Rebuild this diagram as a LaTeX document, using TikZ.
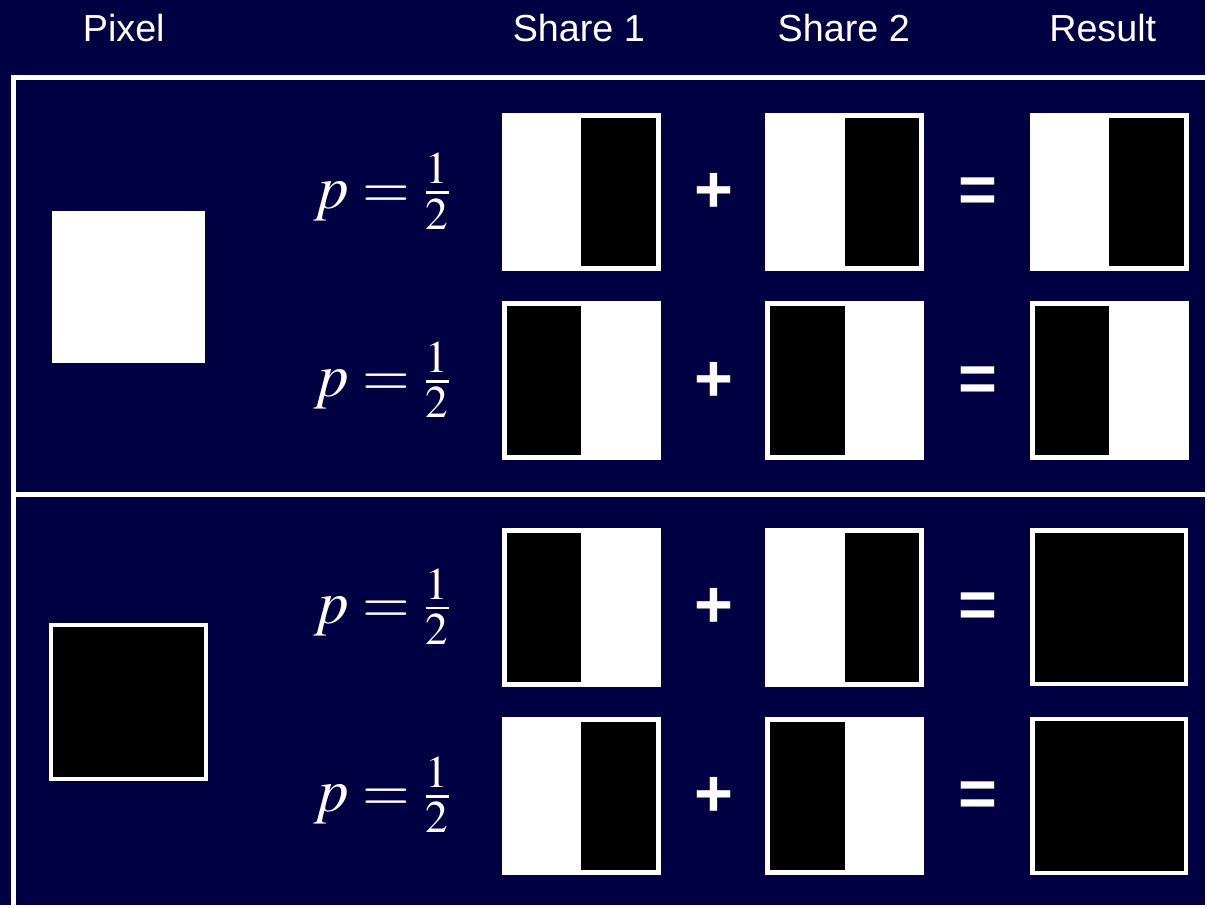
\documentclass[tikz,border=0pt]{standalone}
\usepackage{mathptmx}
\usepackage[no-math]{fontspec}
\setmainfont{Liberation Sans}
\definecolor{fondo}{RGB}{0,0,66}
\tikzset{
    celda/.style={draw=white, fill=white, line width=0.1cm, minimum size=3.08cm, inner sep=0pt, outer sep=0pt},
    negroder/.style={path picture={\fill[black] (path picture bounding box.north) rectangle (path picture bounding box.south east);}},
    negroizq/.style={path picture={\fill[black] (path picture bounding box.south west) rectangle (path picture bounding box.north);}},
    negro/.style={fill=black, line width=0.085cm},
    pixblanco/.style={fill=white, minimum size=3.06cm, inner sep=0pt},
    pixnegro/.style={draw=white, fill=black, line width=0.08cm, minimum size=3.1cm, inner sep=0pt},
    marco/.style={draw=white, line width=0.1cm},
    titulo/.style={text=white, font=\fontsize{21.5}{26}\selectfont, anchor=base, inner sep=0pt},
    prob/.style={text=white, font=\fontsize{35}{42}\selectfont, anchor=base, inner sep=0pt},
    signo/.style={text=white, font=\fontsize{38}{44}\selectfont\bfseries, anchor=base, inner sep=0pt},
}
\begin{document}
\begin{tikzpicture}[x=0.02cm, y=-0.02cm]
\fill[fondo] (0,0) rectangle (1207,907);
% Titulos
\node[titulo] (tpixel) at (124,42) {Pixel};
\node[titulo] (tshare1) at (580,42) {Share 1};
\node[titulo] (tshare2) at (845.5,42) {Share 2};
\node[titulo] (tresult) at (1105,42) {Result};
% Marco
\draw[marco] (1207,78) -- (13.5,78) -- (13.5,907);
\draw[marco] (13.5,495.5) -- (1207,495.5);
% Pixel blanco y negro
\node[pixblanco] (pixblanco) at (128.5,287.5) {};
\node[pixnegro] (pixnegro) at (128.5,703.5) {};
% Fila 1
\begin{scope}[shift={(0,192.5)}]
\node[prob] (p1) at (383,16) {$p=\frac{1}{2}$};
\node[celda, negroder] (s1f1) at (582.5,0) {};
\node[signo] (mas1) at (715,20.5) {+};
\node[celda, negroder] (s2f1) at (846.5,0) {};
\node[signo] (igual1) at (980,20.5) {=};
\node[celda, negroder] (rf1) at (1111.5,0) {};
\end{scope}
% Fila 2
\begin{scope}[shift={(0,381.5)}]
\node[prob] (p2) at (383,16) {$p=\frac{1}{2}$};
\node[celda, negroizq] (s1f2) at (582.5,0) {};
\node[signo] (mas2) at (715,20.5) {+};
\node[celda, negroizq] (s2f2) at (846.5,0) {};
\node[signo] (igual2) at (980,20.5) {=};
\node[celda, negroizq] (rf2) at (1111.5,0) {};
\end{scope}
% Fila 3
\begin{scope}[shift={(0,608.5)}]
\node[prob] (p3) at (383,16) {$p=\frac{1}{2}$};
\node[celda, negroizq] (s1f3) at (582.5,0) {};
\node[signo] (mas3) at (715,20.5) {+};
\node[celda, negroder] (s2f3) at (846.5,0) {};
\node[signo] (igual3) at (980,20.5) {=};
\node[celda, negro] (rf3) at (1111.5,0) {};
\end{scope}
% Fila 4
\begin{scope}[shift={(0,797.5)}]
\node[prob] (p4) at (383,16) {$p=\frac{1}{2}$};
\node[celda, negroder] (s1f4) at (582.5,0) {};
\node[signo] (mas4) at (715,20.5) {+};
\node[celda, negroizq] (s2f4) at (846.5,0) {};
\node[signo] (igual4) at (980,20.5) {=};
\node[celda, negro] (rf4) at (1111.5,0) {};
\end{scope}
\end{tikzpicture}
\end{document}
